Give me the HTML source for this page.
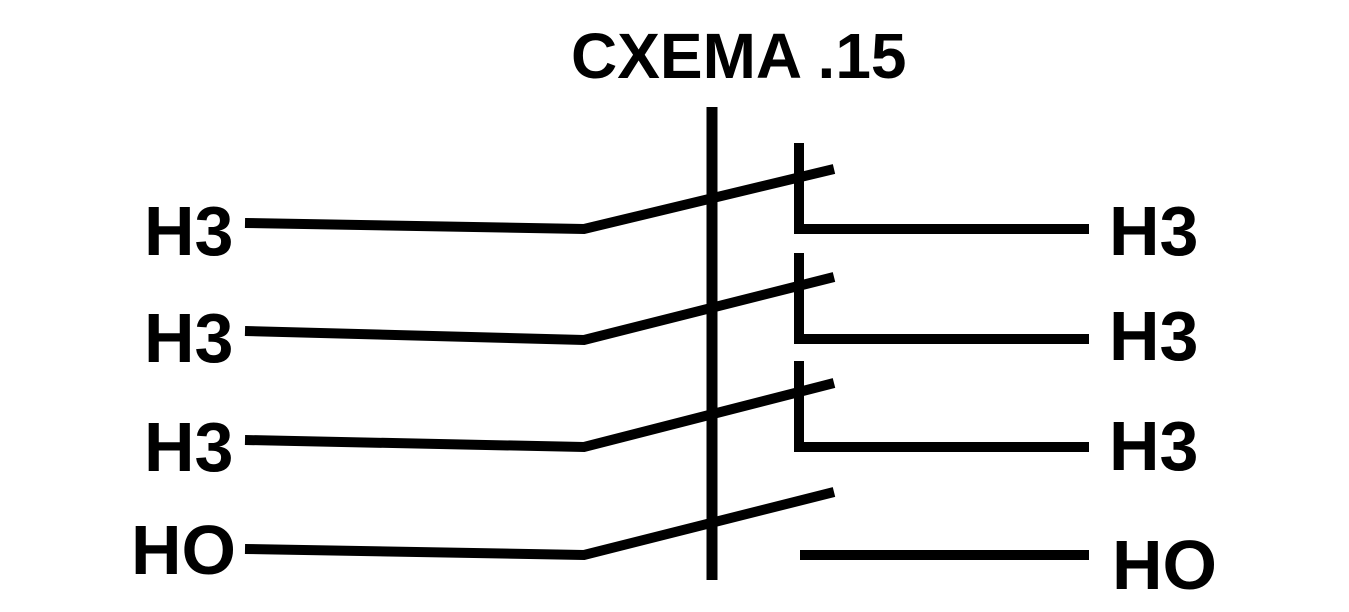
<!DOCTYPE html>
<html><head><meta charset="utf-8"><style>html,body{margin:0;padding:0;background:#fff}svg{display:block}</style></head>
<body>
<svg width="1349" height="612" viewBox="0 0 1349 612" xmlns="http://www.w3.org/2000/svg">
<rect width="1349" height="612" fill="#fff"/>
<g font-family="Liberation Sans, Arial, sans-serif" font-weight="bold" fill="#000">
<text x="571" y="78" font-size="64">CXEMA .15</text>
<text x="144" y="255" font-size="70">H3</text>
<text x="144" y="362" font-size="70">H3</text>
<text x="144" y="471" font-size="70">H3</text>
<text x="131" y="574" font-size="70">HO</text>
<text x="1109" y="255" font-size="70">H3</text>
<text x="1109" y="360" font-size="70">H3</text>
<text x="1109" y="470" font-size="70">H3</text>
<text x="1112" y="589" font-size="70">HO</text>
</g>
<g stroke="#000" stroke-width="10" fill="none" stroke-linejoin="miter">
<line x1="712" y1="107" x2="712" y2="580" stroke-width="11"/>
<polyline points="245,223 584,229 834,169"/>
<polyline points="799,143 799,229 1089,229"/>
<polyline points="245,331 584,340 834,277"/>
<polyline points="799,253 799,339 1089,339"/>
<polyline points="245,440 584,447 834,383"/>
<polyline points="799,361 799,447 1089,447"/>
<polyline points="245,549 584,555 834,492"/>
<line x1="800" y1="555" x2="1089" y2="555"/>
</g>
</svg>
</body></html>
